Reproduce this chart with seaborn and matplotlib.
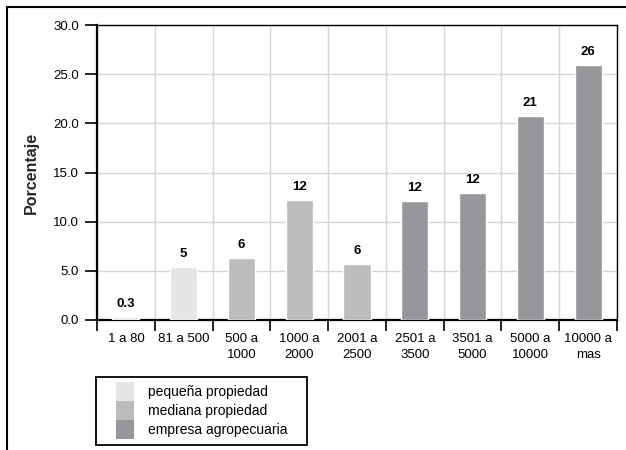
import matplotlib
matplotlib.use("Agg")
import matplotlib.pyplot as plt
import seaborn as sns
import pandas as pd
from matplotlib.lines import Line2D
from matplotlib.patches import Patch, Rectangle

# Data
categories = ["1 a 80", "81 a 500", "500 a\n1000", "1000 a\n2000", "2001 a\n2500",
              "2501 a\n3500", "3501 a\n5000", "5000 a\n10000", "10000 a\nmas"]
values = [0.3, 5.4, 6.3, 12.2, 5.7, 12.1, 12.9, 20.7, 25.9]
labels = ["0.3", "5", "6", "12", "6", "12", "12", "21", "26"]
groups = ["pequeña propiedad", "pequeña propiedad", "mediana propiedad", "mediana propiedad",
          "mediana propiedad", "empresa agropecuaria", "empresa agropecuaria",
          "empresa agropecuaria", "empresa agropecuaria"]
group_names = ["pequeña propiedad", "mediana propiedad", "empresa agropecuaria"]
group_colors = ["#E4E5E7", "#BBBCBE", "#96979A"]

sns.set_style("white")
plt.rcParams['font.family'] = ['Liberation Sans', 'DejaVu Sans']
plt.rcParams['text.color'] = 'black'
plt.rcParams['xtick.color'] = 'black'
plt.rcParams['ytick.color'] = 'black'

df = pd.DataFrame({"cat": categories, "val": values, "grp": groups})

fig = plt.figure(figsize=(6.26, 4.5), dpi=100)
ax = fig.add_axes([97 / 626, 130 / 450, 520 / 626, 295 / 450])

sns.barplot(data=df, x="cat", y="val", hue="grp", hue_order=group_names,
            palette=group_colors, dodge=False, width=0.47, ax=ax,
            legend=False, saturation=1, zorder=3)

ax.set_ylim(0, 30)
ax.set_xlim(-0.5, len(categories) - 0.5)
ax.set_yticks(range(0, 31, 5))
ax.set_yticklabels([f"{v:.1f}" for v in range(0, 31, 5)], fontsize=9.5)
ax.set_xticks(range(len(categories)))
ax.set_xticklabels(categories, fontsize=9.5, linespacing=1.5)
ax.set_xticks([i + 0.5 for i in range(-1, len(categories))], minor=True)
ax.tick_params(axis="x", which="major", length=0, pad=9)
ax.tick_params(axis="x", which="minor", bottom=True, length=8, width=1.2,
               color="black", direction="out")
ax.tick_params(axis="y", left=True, length=9, width=1.2, color="black",
               direction="out", pad=4)
ax.grid(axis="y", which="major", color="#D6D6D6", linewidth=1, zorder=0)
ax.grid(axis="x", which="minor", color="#D6D6D6", linewidth=1, zorder=0)
ax.set_axisbelow(True)

for side in ["top", "right", "bottom", "left"]:
    ax.spines[side].set_visible(True)
    ax.spines[side].set_color("black")
ax.spines["left"].set_linewidth(1.6)
ax.spines["bottom"].set_linewidth(1.6)
ax.spines["top"].set_linewidth(1.0)
ax.spines["right"].set_linewidth(1.0)

ax.set_xlabel("")
ax.set_ylabel("Porcentaje", fontsize=11.5, fontweight="bold", labelpad=10)

for i, (v, lab) in enumerate(zip(values, labels)):
    ax.text(i, v + 0.75, lab, ha="center", va="bottom", fontsize=9.5, fontweight="bold")

# legend box drawn by hand so it is wider than its text, as in the reference
fig.add_artist(Rectangle((96 / 626, 1 - 445 / 450), 211 / 626, 68 / 450,
                         transform=fig.transFigure, facecolor="white",
                         edgecolor="black", linewidth=1.3))
handles = [Patch(facecolor=c, edgecolor="none") for c in group_colors]
leg = fig.legend(handles, group_names, loc="upper left",
                 bbox_to_anchor=(116 / 626, 1 - 382 / 450), fontsize=10,
                 frameon=False, handlelength=1.3, handleheight=1.72,
                 labelspacing=0.0, handletextpad=1.0, borderpad=0,
                 borderaxespad=0)

# outer frame (top and left edges only)
fig.add_artist(Line2D([7 / 626, 1], [1 - 7 / 450, 1 - 7 / 450], color="black", linewidth=1.5))
fig.add_artist(Line2D([7 / 626, 7 / 626], [0, 1 - 7 / 450], color="black", linewidth=1.5))

plt.savefig("out.png", dpi=100)
